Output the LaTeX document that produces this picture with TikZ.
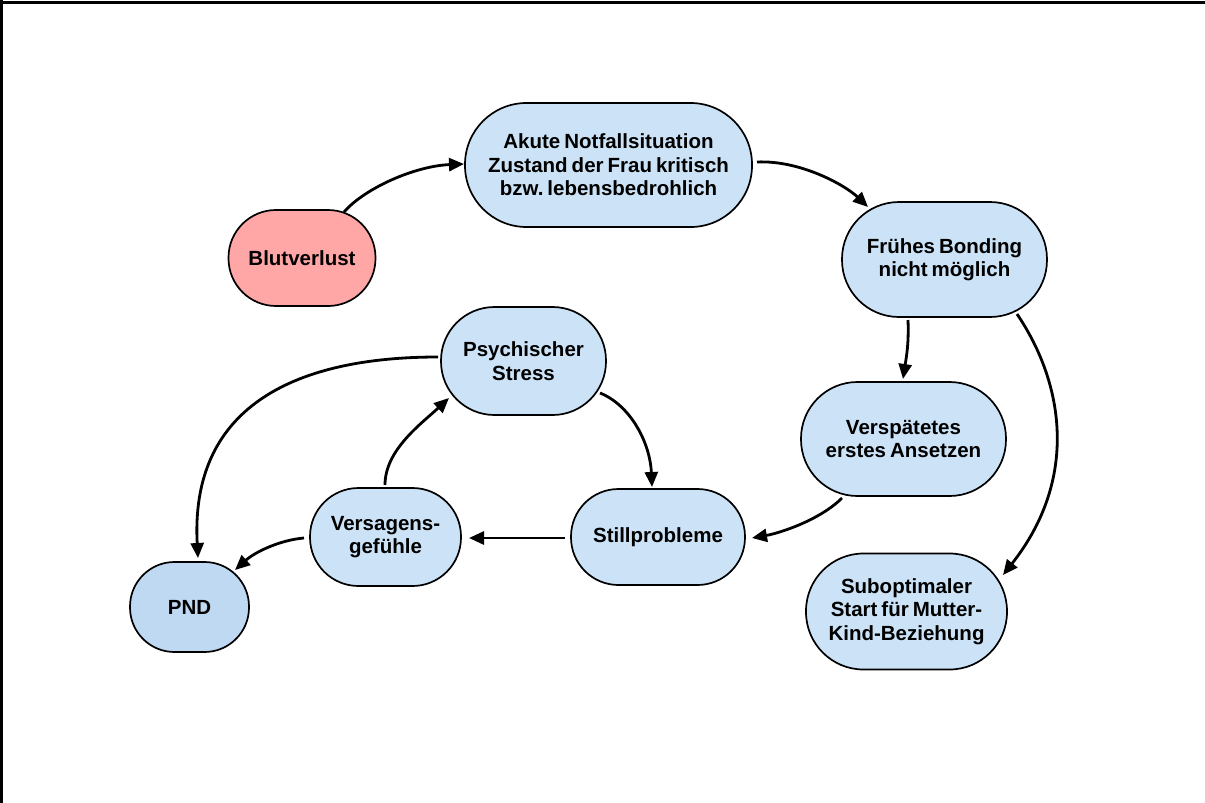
\documentclass[tikz,border=0pt]{standalone}
\usepackage{fontspec}
\setmainfont{Liberation Sans}[WordSpace=0.7]
\usetikzlibrary{arrows.meta,calc}
\definecolor{boxblue}{HTML}{CCE3F7}
\definecolor{pndblue}{HTML}{BFD9F3}
\definecolor{boxpink}{HTML}{FFA6A6}
\frenchspacing
\begin{document}
\begin{tikzpicture}[x=1pt,y=-1pt,
  box/.style={draw=black, line width=1.7pt, fill=boxblue, rectangle, inner sep=0pt,
    align=center, font=\fontsize{20.5}{23.5}\selectfont\bfseries},
  conn/.style={draw=black, line width=2.8pt, -{Triangle[length=15pt,width=13pt]}}
]
\useasboundingbox (0,0) rectangle (1205,803);
\fill[white] (0,0) rectangle (1205,803);
\draw[line width=3pt] (0,2.5) -- (1205,2.5);
\draw[line width=3pt] (1.5,0) -- (1.5,803);

\node[box, fill=boxpink, minimum width=147pt, minimum height=96pt, rounded corners=47.5pt] (blut) at (302,258) {Blutverlust};
\node[box, minimum width=287pt, minimum height=124pt, rounded corners=61.5pt] (akute) at (608.5,165) {Akute Notfallsituation\\Zustand der Frau kritisch\\bzw. lebensbedrohlich};
\node[box, minimum width=205pt, minimum height=115pt, rounded corners=57pt] (frueh) at (944.5,259.5) {Frühes Bonding\\nicht möglich};
\node[box, minimum width=205pt, minimum height=114pt, rounded corners=56.5pt] (versp) at (903.5,439) {Verspätetes\\erstes Ansetzen};
\node[box, minimum width=201pt, minimum height=116pt, rounded corners=57.5pt] (subopt) at (906.5,611.5) {Suboptimaler\\Start für Mutter-\\Kind-Beziehung};
\node[box, minimum width=165pt, minimum height=108pt, rounded corners=53.5pt] (psych) at (523.5,361) {Psychischer\\Stress};
\node[box, minimum width=174pt, minimum height=96pt, rounded corners=47.5pt] (still) at (658,537) {Stillprobleme};
\node[box, minimum width=151pt, minimum height=98pt, rounded corners=48.5pt] (versag) at (385.5,537) {Versagens-\\gefühle};
\node[box, fill=pndblue, minimum width=119pt, minimum height=90pt, rounded corners=44.5pt] (pnd) at (189.5,607) {PND};

\draw[conn] ($(blut)+(42,-46)$) .. controls +(21,-24) and +(-49,2) .. ($(akute)+(-144.5,-1)$);
\draw[conn] ($(akute)+(148.5,-3)$) .. controls +(43,-2) and +(-23,-22) .. ($(frueh)+(-76.5,-52.5)$);
\draw[conn] ($(frueh)+(-36.5,60.5)$) .. controls +(1,25) and +(3,-20) .. ($(versp)+(-0.5,-60)$);
\draw[conn] ($(frueh)+(72.5,54.5)$) .. controls +(48,71) and +(75,-95) .. ($(subopt)+(96.5,-36.5)$);
\draw[conn] ($(versp)+(-61.5,59)$) .. controls +(-22,22) and +(28,-5) .. ($(still)+(94,1)$);
\draw[conn] ($(still)+(-93,1)$) -- ($(versag)+(83.5,1)$);
\draw[conn] ($(versag)+(-0.5,-52)$) .. controls +(0,-35) and +(-28,26) .. ($(psych)+(-74.5,37)$);
\draw[conn] ($(psych)+(76.5,32)$) .. controls +(30,12) and +(-2,-45) .. ($(still)+(-6,-50)$);
\draw[conn] ($(psych)+(-85.5,-4)$) .. controls +(-148,0) and +(-8,-148) .. ($(pnd)+(8.5,-49)$);
\draw[conn] ($(versag)+(-81.5,1)$) .. controls +(-24,2) and +(20,-18) .. ($(pnd)+(45.5,-37)$);
\end{tikzpicture}
\end{document}
